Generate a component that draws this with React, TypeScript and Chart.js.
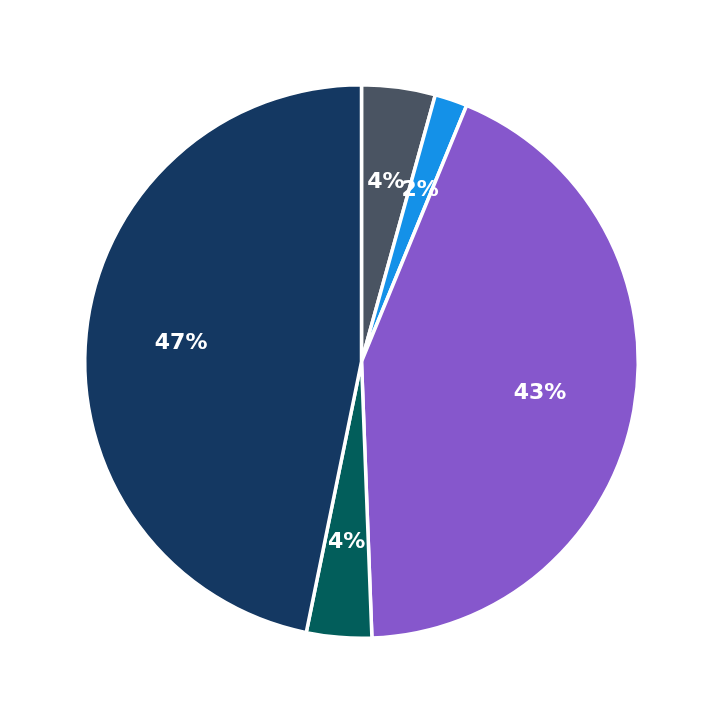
import { useRef, useEffect } from "react";
import { Chart, ChartConfiguration, registerables, Plugin } from "chart.js";

Chart.register(...registerables);

const labels = ["Gray", "Blue", "Purple", "Teal", "Navy"];
const values = [4.3, 1.9, 43.2, 3.8, 46.8];
const colors = ["#4a5462", "#1491e8", "#8657cc", "#025e5b", "#143862"];

// draws the rounded percentage inside each slice
const percentLabels: Plugin<"pie"> = {
  id: "percentLabels",
  afterDatasetsDraw(chart) {
    const ctx = chart.ctx;
    const meta = chart.getDatasetMeta(0);
    const total = values.reduce((a, b) => a + b, 0);
    ctx.save();
    ctx.fillStyle = "#ffffff";
    ctx.font = "bold 22px 'DejaVu Sans'";
    ctx.textAlign = "center";
    ctx.textBaseline = "middle";
    meta.data.forEach((arc: any, i) => {
      const { x, y, startAngle, endAngle, outerRadius } = arc.getProps(
        ["x", "y", "startAngle", "endAngle", "outerRadius"],
        true
      );
      const mid = (startAngle + endAngle) / 2;
      const r = outerRadius * 0.655;
      const pct = Math.round((values[i] / total) * 100);
      ctx.fillText(`${pct}%`, x + Math.cos(mid) * r, y + Math.sin(mid) * r);
    });
    ctx.restore();
  },
};

export default function App() {
  const chartRef = useRef<HTMLCanvasElement>(null);
  const chartInstanceRef = useRef<Chart | null>(null);

  useEffect(() => {
    document.body.style.margin = "0";
    if (!chartRef.current) return;
    const ctx = chartRef.current.getContext("2d");
    if (!ctx) return;

    const config: ChartConfiguration<"pie"> = {
      type: "pie",
      data: {
        labels,
        datasets: [
          {
            data: values,
            backgroundColor: colors,
            borderColor: "#ffffff",
            borderWidth: 3.5,
          },
        ],
      },
      options: {
        responsive: true,
        maintainAspectRatio: false,
        animation: false,
        layout: { padding: 83 },
        plugins: {
          legend: { display: false },
          tooltip: { enabled: false },
        },
      },
      plugins: [percentLabels],
    };

    chartInstanceRef.current = new Chart(ctx, config);

    return () => {
      if (chartInstanceRef.current) {
        chartInstanceRef.current.destroy();
        chartInstanceRef.current = null;
      }
    };
  }, []);

  return (
    <div style={{ width: 723, height: 723, position: "relative" }}>
      <canvas ref={chartRef}></canvas>
    </div>
  );
}
